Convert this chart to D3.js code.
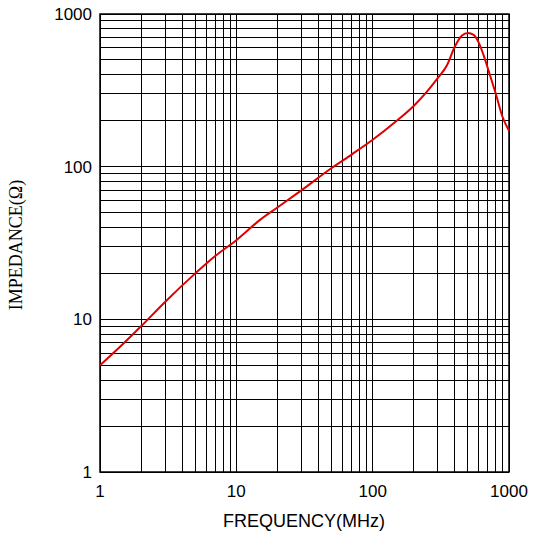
<!DOCTYPE html>
<html><head><meta charset="utf-8">
<script src="https://cdn.jsdelivr.net/npm/d3@7"></script>
<style>body{margin:0;background:#fff}</style>
</head><body>
<svg id="chart" width="533" height="533"></svg>
<script>
// impedance curve
const freq = [1, 1.5, 2, 3, 5, 7, 10, 15, 20, 30, 50, 70, 100, 150, 200, 250, 300, 350, 400, 450, 500, 550, 600, 650, 700, 800, 900, 1000];
const imp  = [5, 7, 9, 13, 20, 26, 33, 45, 54, 70, 98, 120, 150, 200, 250, 310, 380, 460, 610, 720, 750, 730, 650, 540, 440, 300, 210, 172];
const xTicks = [1, 10, 100, 1000];
const yTicks = [1, 10, 100, 1000];

const margin = {left: 100, top: 14, right: 24, bottom: 61};
const width = 533 - margin.left - margin.right;
const height = 533 - margin.top - margin.bottom;

const svg = d3.select("#chart");
const g = svg.append("g").attr("transform", `translate(${margin.left},${margin.top})`);

const x = d3.scaleLog().domain([1, 1000]).range([0, width]);
const y = d3.scaleLog().domain([1, 1000]).range([height, 0]);

// grid: every integer step per decade
let grid = [];
for (let d = 1; d < 1000; d *= 10) {
    for (let k = 1; k <= 10; k++) grid.push(d * k);
}
grid = Array.from(new Set(grid));

g.selectAll(".vg").data(grid).join("line")
    .attr("x1", d => x(d)).attr("x2", d => x(d))
    .attr("y1", 0).attr("y2", height)
    .attr("stroke", "#000").attr("stroke-width", 1).attr("shape-rendering", "crispEdges");
g.selectAll(".hg").data(grid).join("line")
    .attr("y1", d => y(d)).attr("y2", d => y(d))
    .attr("x1", 0).attr("x2", width)
    .attr("stroke", "#000").attr("stroke-width", 1).attr("shape-rendering", "crispEdges");

g.append("rect").attr("width", width).attr("height", height)
    .attr("fill", "none").attr("stroke", "#000").attr("stroke-width", 1.5);

g.append("path").datum(freq.map((f, i) => [f, imp[i]]))
    .attr("fill", "none").attr("stroke", "#e00000").attr("stroke-width", 2)
    .attr("d", d3.line().x(d => x(d[0])).y(d => y(d[1])).curve(d3.curveMonotoneX));

g.selectAll(".xt").data(xTicks).join("text")
    .attr("x", d => x(d)).attr("y", height + 25)
    .attr("text-anchor", "middle").attr("font-family", "Liberation Sans, Arial")
    .attr("font-size", 17).text(d => d);
g.selectAll(".yt").data(yTicks).join("text")
    .attr("x", -8).attr("y", d => y(d) + 6)
    .attr("text-anchor", "end").attr("font-family", "Liberation Sans, Arial")
    .attr("font-size", 17).text(d => d);

svg.append("text").attr("x", 304).attr("y", 527)
    .attr("text-anchor", "middle").attr("font-family", "Liberation Sans, Arial")
    .attr("font-size", 18).text("FREQUENCY(MHz)");
svg.append("text").attr("transform", `translate(22,245) rotate(-90)`)
    .attr("text-anchor", "middle").attr("font-family", "Liberation Serif, Times New Roman")
    .attr("font-size", 18).text("IMPEDANCE(Ω)");
</script>
</body></html>
